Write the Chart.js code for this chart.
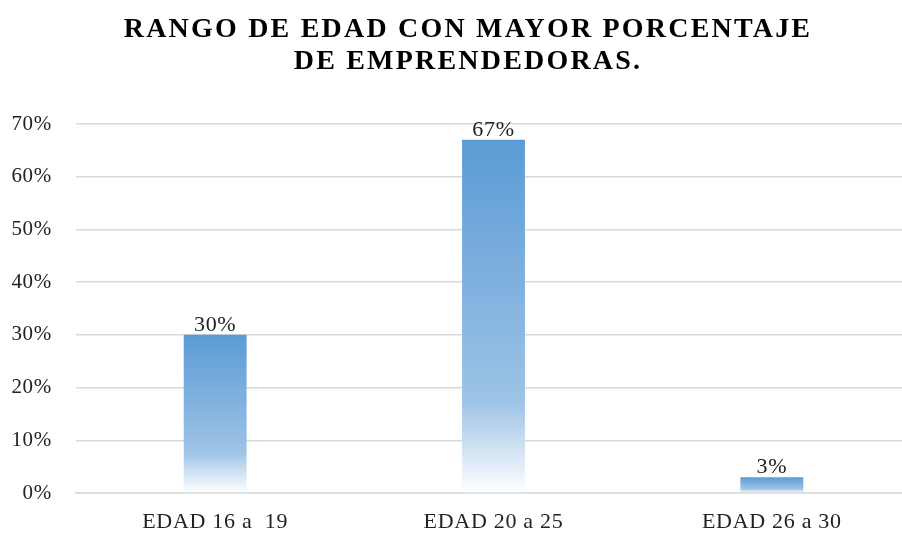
<!DOCTYPE html>
<html>
<head>
<meta charset="utf-8">
<script src="https://cdn.jsdelivr.net/npm/chart.js@4"></script>
<style>
  html, body { margin: 0; padding: 0; background: #fff; overflow: hidden; }
  #clip { width: 902px; height: 533px; overflow: hidden; }
  #wrap { width: 912px; height: 533px; }
</style>
</head>
<body>
<div id="clip"><div id="wrap"><canvas id="chart"></canvas></div></div>
<script>
const categories = ["EDAD 16 a  19", "EDAD 20 a 25", "EDAD 26 a 30"];
const values = [0.30, 0.67, 0.03];
const valueLabels = ["30%", "67%", "3%"];
const yTicks = [0, 0.1, 0.2, 0.3, 0.4, 0.5, 0.6, 0.7];
const titleLines = ["RANGO DE EDAD CON MAYOR PORCENTAJE", "DE EMPRENDEDORAS."];

const SERIF = "'Liberation Serif', 'Times New Roman', serif";

// gradient per bar: blue on top, fading to white at the base
function barGradient(context) {
  const chart = context.chart;
  const yScale = chart.scales.y;
  if (!chart.chartArea || !yScale) return "#5b9bd5";
  const top = yScale.getPixelForValue(values[context.dataIndex]);
  const bottom = yScale.getPixelForValue(0);
  if (!isFinite(top) || bottom - top < 1) return "#5b9bd5";
  const g = chart.ctx.createLinearGradient(0, top, 0, bottom);
  g.addColorStop(0, "#5b9bd5");
  g.addColorStop(0.74, "#9dc3e6");
  g.addColorStop(1, "#ffffff");
  return g;
}

// slight letter spacing like the original Office rendering
const spacingPlugin = {
  id: "spacing",
  beforeLayout(chart) { chart.ctx.letterSpacing = "0.7px"; },
  beforeDraw(chart) { chart.ctx.letterSpacing = "0.7px"; }
};

// title drawn by hand so it can be letter spaced
const titlePlugin = {
  id: "spacedTitle",
  afterDraw(chart) {
    const ctx = chart.ctx;
    ctx.save();
    ctx.letterSpacing = "2.2px";
    ctx.font = "bold 28px " + SERIF;
    ctx.fillStyle = "#000";
    ctx.textAlign = "center";
    ctx.textBaseline = "alphabetic";
    const cx = chart.width / 2 + 12;
    ctx.fillText(titleLines[0], cx, 37);
    ctx.fillText(titleLines[1], cx, 69);
    ctx.restore();
  }
};

// value labels above each bar
const valueLabelPlugin = {
  id: "valueLabels",
  afterDatasetsDraw(chart) {
    const ctx = chart.ctx;
    const meta = chart.getDatasetMeta(0);
    ctx.save();
    ctx.letterSpacing = "0.7px";
    ctx.font = "22px " + SERIF;
    ctx.fillStyle = "#222";
    ctx.textAlign = "center";
    ctx.textBaseline = "alphabetic";
    meta.data.forEach((bar, i) => {
      ctx.fillText(valueLabels[i], bar.x, bar.y - 4);
    });
    ctx.restore();
  }
};

new Chart(document.getElementById("chart"), {
  type: "bar",
  data: {
    labels: categories,
    datasets: [{
      data: values,
      backgroundColor: barGradient,
      borderWidth: 0,
      barPercentage: 0.9,
      categoryPercentage: 0.251
    }]
  },
  options: {
    responsive: true,
    maintainAspectRatio: false,
    animation: false,
    layout: { padding: { left: 12, right: 1, top: 124, bottom: 0 } },
    plugins: {
      legend: { display: false },
      tooltip: { enabled: false },
      title: { display: false }
    },
    scales: {
      x: {
        grid: { display: false },
        border: { color: "#d9d9d9", width: 1.5 },
        afterFit(axis) { axis.height = 40; },
        ticks: {
          color: "#222",
          padding: 10,
          font: { family: SERIF, size: 22, lineHeight: 1.0 }
        }
      },
      y: {
        min: 0,
        max: 0.7,
        afterBuildTicks(axis) { axis.ticks = yTicks.map(v => ({ value: v })); },
        afterFit(axis) { axis.width = 64; },
        grid: { color: "#d9d9d9", lineWidth: 1.5, drawTicks: false },
        border: { display: false },
        ticks: {
          color: "#222",
          padding: 24,
          font: { family: SERIF, size: 21 },
          callback: v => Math.round(v * 100) + "%"
        }
      }
    }
  },
  plugins: [spacingPlugin, valueLabelPlugin, titlePlugin]
});
</script>
</body>
</html>
